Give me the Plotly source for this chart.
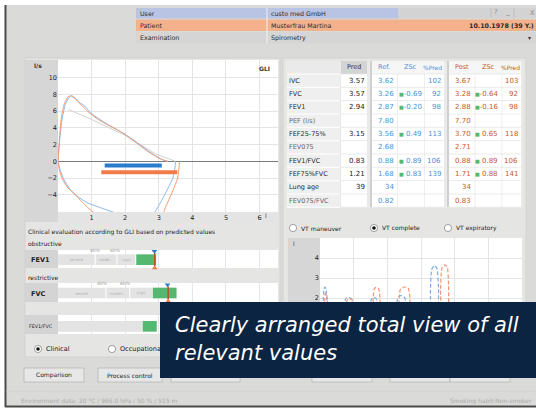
import plotly.graph_objects as go

W, H = 536, 409
FONT = "DejaVu Sans"

# ---------------- data ----------------
# Flow-volume loop: volume (l) vs flow (l/s)
ref_exp_vol = [0.00, 0.05, 0.12, 0.22, 0.32, 0.40, 0.50, 0.65, 0.80, 0.90, 1.10, 1.40, 1.70, 2.00, 2.30, 2.60, 2.85, 3.05, 3.20, 3.26]
ref_exp_flow = [0.00, 2.50, 5.00, 6.80, 7.60, 7.85, 7.60, 7.00, 6.60, 6.10, 5.40, 4.60, 3.90, 3.20, 2.40, 1.50, 0.80, 0.30, 0.05, 0.00]
post_exp_vol = [0.00, 0.04, 0.10, 0.20, 0.30, 0.38, 0.50, 0.70, 0.90, 1.20, 1.50, 1.80, 2.10, 2.40, 2.70, 2.95, 3.15, 3.28]
post_exp_flow = [0.00, 2.50, 5.20, 7.00, 7.70, 7.80, 7.50, 6.70, 5.90, 5.00, 4.30, 3.70, 2.90, 2.00, 1.10, 0.50, 0.15, 0.00]
ref_insp_vol = [0.00, 0.06, 0.18, 0.35, 0.55, 0.85, 1.24, 1.60, 2.00, 2.50, 2.85, 2.97, 3.20, 3.42, 3.48, 3.50]
ref_insp_flow = [0.00, -1.00, -2.20, -3.30, -4.10, -4.90, -5.50, -6.00, -6.60, -6.80, -6.20, -5.50, -3.80, -2.00, -0.80, 0.00]
post_insp_vol = [0.00, 0.04, 0.14, 0.30, 0.52, 0.70, 0.88, 1.10, 1.60, 2.60, 3.10, 3.20, 3.42, 3.56, 3.60, 3.62]
post_insp_flow = [0.00, -1.00, -2.20, -3.20, -4.00, -4.80, -5.50, -6.20, -7.00, -7.20, -6.40, -5.50, -3.50, -2.00, -0.80, 0.00]
pred_vol = [0.30, 1.00, 2.00, 2.90, 3.50]
pred_flow = [6.20, 5.00, 3.10, 0.90, 0.00]
ref_bar_vol = [1.39, 3.09]
ref_bar_flow = -0.5
post_bar_vol = [1.29, 3.55]
post_bar_flow = -1.3
flow_ticks = [-4, -2, 0, 2, 4, 6, 8, 10]
vol_ticks = [1, 2, 3, 4, 5, 6]

# Tidal breathing (VT complete)
vt_ref_x = [0.00, 0.08, 0.10, 0.12, 0.15, 0.18, 0.20, 0.22, 0.45,
            0.72, 0.74, 0.78, 0.85, 0.92, 0.96, 0.98, 1.25,
            1.49, 1.51, 1.55, 1.60, 1.66, 1.70, 1.72, 2.00,
            2.27, 2.29, 2.34, 2.42, 2.50, 2.55, 2.57, 2.90,
            3.26, 3.28, 3.32, 3.40, 3.47, 3.52, 3.55, 4.00, 6.00]
vt_ref_y = [1.00, 1.20, 2.00, 2.45, 2.55, 2.45, 2.00, 1.20, 0.80,
            1.20, 1.85, 2.00, 2.02, 1.98, 1.85, 1.20, 0.80,
            1.20, 1.85, 2.00, 2.02, 1.98, 1.85, 1.20, 0.80,
            1.20, 1.85, 2.08, 2.12, 2.05, 1.85, 1.20, 0.60,
            1.20, 2.40, 3.45, 3.62, 3.50, 2.60, 1.20, 0.50, 0.50]
vt_post_x = [0.00, 0.12, 0.14, 0.16, 0.18, 0.20, 0.22, 0.24, 0.50,
             0.77, 0.79, 0.83, 0.89, 0.95, 0.99, 1.01, 1.30,
             1.56, 1.58, 1.61, 1.67, 1.74, 1.78, 1.80, 2.05,
             2.33, 2.35, 2.39, 2.50, 2.62, 2.67, 2.69, 3.10,
             3.56, 3.58, 3.62, 3.70, 3.78, 3.82, 3.85, 4.20, 6.00]
vt_post_y = [1.00, 1.20, 1.90, 2.20, 2.27, 2.20, 1.90, 1.20, 0.80,
             1.20, 1.80, 1.95, 1.96, 1.93, 1.80, 1.20, 0.80,
             1.20, 2.00, 2.45, 2.53, 2.48, 2.00, 1.20, 0.80,
             1.20, 2.00, 2.45, 2.55, 2.50, 2.00, 1.20, 0.60,
             1.20, 2.40, 3.50, 3.66, 3.55, 2.60, 1.20, 0.50, 0.50]
vt_ticks = [2, 3, 4]

# Results table
params = ["IVC", "FVC", "FEV1", "PEF (l/s)", "FEF25-75%", "FEV075", "FEV1/FVC", "FEF75%FVC", "Lung age", "FEV075/FVC"]
pred = ["3.57", "3.57", "2.94", "", "3.15", "", "0.83", "1.21", "39", ""]
ref_val = ["3.62", "3.26", "2.87", "7.80", "3.56", "2.68", "0.88", "1.68", "34", "0.82"]
ref_z = ["", "-0.69", "-0.20", "", " 0.49", "", " 0.89", " 0.83", "", ""]
ref_pct = ["102", "92", "98", "", "113", "", "106", "139", "", ""]
post_val = ["3.67", "3.28", "2.88", "7.70", "3.70", "2.71", "0.88", "1.71", "34", "0.83"]
post_z = ["", "-0.64", "-0.16", "", " 0.65", "", " 0.89", " 0.88", "", ""]
post_pct = ["103", "92", "98", "", "118", "", "106", "141", "", ""]

# Clinical evaluation (GLI) bars, in litres on the same volume scale
eval_rows = ["FEV1/FVC", "FVC", "FEV1"]            # bottom -> top
fev1_seg_start = [0.00, 1.12, 1.77]
fev1_seg_end = [1.09, 1.74, 2.30]
fev1_seg_text = ["severe", "mode...", "slight"]
fev1_normal = [2.33, 2.92]
fvc_seg_start = [0.00, 1.44, 2.15]
fvc_seg_end = [1.41, 2.12, 2.80]
fvc_seg_text = ["severe", "moder...", "slight"]
fvc_normal = [2.82, 3.53]
ratio_seg = [0.00, 2.50]
ratio_normal = [2.52, 2.94]
fev1_pct_pos = [1.12, 1.70]
fvc_pct_pos = [1.32, 2.02]
pct_text = ["40%", "60%"]
eval_ref = [2.87, 3.26]    # FEV1, FVC
eval_post = [2.88, 3.28]

# ---------------- helpers ----------------
def X(px):
    return px / W

def Y(py):
    return 1 - py / H

shapes = []
annotations = []

def rect(x0, y0, x1, y1, fill, line=None, lw=0, layer="below"):
    shapes.append(dict(type="rect", xref="paper", yref="paper",
                       x0=X(x0), x1=X(x1), y0=Y(y1), y1=Y(y0),
                       fillcolor=fill, line=dict(width=lw, color=line or fill), layer=layer))

def hline(x0, x1, y, color, lw=1, layer="below"):
    shapes.append(dict(type="line", xref="paper", yref="paper", x0=X(x0), x1=X(x1),
                       y0=Y(y), y1=Y(y), line=dict(color=color, width=lw), layer=layer))

def vline(x, y0, y1, color, lw=1, layer="below"):
    shapes.append(dict(type="line", xref="paper", yref="paper", x0=X(x), x1=X(x),
                       y0=Y(y0), y1=Y(y1), line=dict(color=color, width=lw), layer=layer))

def circ(cx, cy, r, fill, line="#8a8a8a", lw=0.8):
    shapes.append(dict(type="circle", xref="paper", yref="paper", x0=X(cx - r), x1=X(cx + r),
                       y0=Y(cy + r), y1=Y(cy - r), fillcolor=fill,
                       line=dict(color=line, width=lw), layer="below"))

def txt(px, py, s, size=6, color="#333333", xa="left", weight="normal", family=FONT, style="normal"):
    annotations.append(dict(x=X(px), y=Y(py), xref="paper", yref="paper", text=s,
                            showarrow=False, xanchor=xa, yanchor="middle",
                            font=dict(size=size, color=color, family=family, weight=weight, style=style),
                            borderpad=0))

# ---------------- frame / panels ----------------
rect(5, 5, 536, 407, "#dadad8")
vline(5.5, 5, 407, "#4a4a4a", 2)
hline(5, 536, 406.5, "#4a4a4a", 2)

# header rows
rect(136, 8, 267, 18.5, "#b9c3e3")
rect(267, 8, 398, 18.5, "#b9c3e3")
rect(398, 8, 536, 18.5, "#d3d3d3")
vline(491, 8, 18.5, "#bdbdbd", 0.8)
vline(514, 8, 18.5, "#bdbdbd", 0.8)
rect(136, 19.5, 267, 31, "#f4b28c")
rect(267, 19.5, 536, 31, "#f4b28c")
rect(136, 32, 267, 43.5, "#d5d5d5")
rect(267, 32, 536, 43.5, "#d5d5d5")
vline(267, 8, 43.5, "#f2f2f2", 1)
txt(139, 13.3, "User", 6.3, "#2a2a2a")
txt(270, 13.3, "custo med GmbH", 6.3, "#2a2a2a")
txt(496, 12.5, "?", 7, "#888888", xa="center")
txt(507, 12.5, "_", 7, "#888888", xa="center")
txt(529, 13, "X", 6.5, "#888888")
txt(535, 25.3, "10.10.1978 (39 Y.)", 6.3, "#2a2a2a", xa="right", weight="bold")
txt(139, 25.3, "Patient", 6.3, "#2a2a2a")
txt(270, 25.3, "Musterfrau Martina", 6.3, "#2a2a2a")
txt(139, 37.8, "Examination", 6.3, "#2a2a2a")
txt(270, 37.8, "Spirometry", 6.3, "#2a2a2a")
txt(527, 37.8, "▾", 6, "#333333")

# left and right panels
rect(25, 58, 280, 357, "#e5e5e3", "#cfcfcf", 0.8)
rect(283, 58, 526, 362, "#e5e5e3", "#cfcfcf", 0.8)

# flow-volume chart area
rect(25, 60, 58, 222, "#d6d6d6")
rect(58, 60, 278, 212, "#ffffff")
rect(58, 212, 278, 222, "#e4e4e4")
txt(33, 65, "l/s", 6, "#333333", weight="bold")
txt(271, 69, "GLI", 6, "#333333", xa="right", weight="bold")
txt(264, 215.5, "l", 6, "#333333")

# clinical evaluation section
txt(27, 232, "Clinical evaluation according to GLI based on predicted values", 6, "#222222")
txt(27, 243, "obstructive", 6, "#222222")
txt(27, 277, "restrictive", 6, "#222222")
for (y0, y1) in [(250, 268), (283, 302), (315, 334)]:
    rect(25, y0, 58, y1, "#d4d4d4")
    rect(58, y0, 278, y1, "#ffffff")
txt(30, 260, "FEV1", 6.5, "#222222", weight="bold")
txt(30, 293.5, "FVC", 6.5, "#222222", weight="bold")
txt(28, 326.5, "FEV1/FVC", 4.8, "#222222")
circ(38, 349, 3.6, "#ffffff")
circ(38, 349, 1.8, "#111111", "#111111", 0)
txt(45, 349, "Clinical", 6.5, "#222222")
circ(112, 349, 3.6, "#ffffff")
txt(119, 349, "Occupationa", 6.5, "#222222")

# buttons
for (x0, x1) in [(24, 84), (98, 162), (171, 240), (312, 372), (390, 450), (450, 510)]:
    rect(x0, 368, x1, 382, "#e7e7e7", "#b8b8b8", 0.8)
txt(54, 375, "Comparison", 6, "#222222", xa="center")
txt(130, 375, "Process control", 6, "#222222", xa="center")

# status bar
hline(6, 536, 391, "#d0d0d0", 0.8)
txt(20, 400.5, "Environment data: 20 °C / 966.0 hPa / 50 % / 515 m", 6, "#aaaaaa")
txt(533, 400.5, "Smoking habit:Non-smoker", 6, "#aaaaaa", xa="right")

# results table
rect(286, 61, 523, 208, "#eaeaea")
row_h = 13.33
rect(341, 61, 367, 74, "#d4d4d4")
rect(372, 61, 444, 74, "#f6f6f6")
rect(449, 61, 521, 74, "#f6f6f6")
rect(287, 74, 340, 74 + 10 * row_h, "#efefef")
rect(341, 74, 367, 74 + 10 * row_h, "#ffffff")
rect(372, 74, 444, 74 + 10 * row_h, "#ffffff")
rect(449, 74, 521, 74 + 10 * row_h, "#ffffff")
vline(371, 61, 74 + 10 * row_h, "#c6c6c6", 1.5)
vline(448, 61, 74 + 10 * row_h, "#c6c6c6", 1.5)
for xs in [397.5, 424.5, 475, 502]:
    vline(xs, 74, 74 + 10 * row_h, "#e6e6e6", 0.7)
for i in range(11):
    yy = 74 + i * row_h
    hline(287, 340, yy, "#ffffff", 1)
    hline(341, 367, yy, "#e2e2e2", 0.7)
    hline(372, 444, yy, "#e2e2e2", 0.7)
    hline(449, 521, yy, "#e2e2e2", 0.7)

BLUE_T = "#4d8fd8"
ORANGE_T = "#c65a22"
GREEN = "#55b870"
txt(354, 67.5, "Pred", 6.5, "#333333", xa="center")
txt(384, 67.5, "Ref.", 6.5, BLUE_T, xa="center")
txt(410, 67.5, "ZSc", 6.5, BLUE_T, xa="center")
txt(443, 67.5, "%Pred", 6, BLUE_T, xa="right")
txt(462, 67.5, "Post", 6.5, ORANGE_T, xa="center")
txt(488, 67.5, "ZSc", 6.5, ORANGE_T, xa="center")
txt(521, 67.5, "%Pred", 6, ORANGE_T, xa="right")

def zs(s):
    return ('<span style="color:%s;font-size:5px">■</span>%s' % (GREEN, s)) if s else ""

for i, p in enumerate(params):
    cy = 74 + i * row_h + row_h / 2
    lab_col = "#666666" if p in ("PEF (l/s)", "FEV075", "FEV075/FVC") else "#2a2a2a"
    txt(288, cy, p, 6.5, lab_col)
    if pred[i]:
        txt(366, cy, pred[i], 7, "#1a1a1a", xa="right")
    txt(395, cy, ref_val[i], 7, BLUE_T, xa="right")
    if ref_z[i]:
        txt(423, cy, zs(ref_z[i]), 7, BLUE_T, xa="right")
    if ref_pct[i]:
        txt(442, cy, ref_pct[i], 7, BLUE_T, xa="right")
    txt(472, cy, post_val[i], 7, ORANGE_T, xa="right")
    if post_z[i]:
        txt(499, cy, zs(post_z[i]), 7, ORANGE_T, xa="right")
    if post_pct[i]:
        txt(519, cy, post_pct[i], 7, ORANGE_T, xa="right")

# VT section
circ(293, 228, 3.6, "#ffffff")
txt(300, 228, "VT maneuver", 6, "#222222")
circ(374, 228, 3.6, "#ffffff")
circ(374, 228, 1.8, "#111111", "#111111", 0)
txt(381, 228, "VT complete", 6, "#222222")
circ(448, 228, 3.6, "#ffffff")
txt(455, 228, "VT expiratory", 6, "#222222")
rect(288, 238, 320, 360, "#d6d6d6")
rect(320, 238, 522, 360, "#ffffff")
txt(292, 243, "l", 6, "#333333")

# overlay banner
OVL_FONT = "DejaVu Sans"
rect(160, 302, 536, 378, "#0b2441", layer="above")
txt(174, 325, "Clearly arranged total view of all", 21, "#ffffff", family=OVL_FONT, style="italic", weight=200)
txt(174, 353, "relevant values", 21, "#ffffff", family=OVL_FONT, style="italic", weight=200)

# ---------------- traces ----------------
BLUE_L = "#8ab8e8"
ORANGE_L = "#f59c74"
fig = go.Figure()
fig.add_trace(go.Scatter(x=pred_vol, y=pred_flow, mode="lines", line=dict(color="#d2d2d2", width=1), hoverinfo="skip"))
for xs, ys, c in [(ref_exp_vol, ref_exp_flow, BLUE_L), (post_exp_vol, post_exp_flow, ORANGE_L),
                  (ref_insp_vol, ref_insp_flow, BLUE_L), (post_insp_vol, post_insp_flow, ORANGE_L)]:
    fig.add_trace(go.Scatter(x=xs, y=ys, mode="lines", line=dict(color=c, width=1, shape="spline", smoothing=0.6),
                             hoverinfo="skip"))
fig.add_trace(go.Scatter(x=ref_bar_vol, y=[ref_bar_flow] * 2, mode="lines",
                         line=dict(color="#2b7ccb", width=4), hoverinfo="skip"))
fig.add_trace(go.Scatter(x=post_bar_vol, y=[post_bar_flow] * 2, mode="lines",
                         line=dict(color="#f27a48", width=4), hoverinfo="skip"))

# VT chart
fig.add_trace(go.Scatter(x=vt_ref_x, y=vt_ref_y, mode="lines", xaxis="x2", yaxis="y2",
                         line=dict(color="#7aaee4", width=1.2, dash="4px,2px", shape="spline", smoothing=0.5),
                         hoverinfo="skip"))
fig.add_trace(go.Scatter(x=vt_post_x, y=vt_post_y, mode="lines", xaxis="x2", yaxis="y2",
                         line=dict(color="#f3946a", width=1.2, dash="4px,2px", shape="spline", smoothing=0.5),
                         hoverinfo="skip"))

# evaluation bars
def seg_bar(row, starts, ends, color, texts=None):
    fig.add_trace(go.Bar(y=[row] * len(starts), base=starts, x=[e - s for s, e in zip(starts, ends)],
                         orientation="h", width=0.32, xaxis="x3", yaxis="y3",
                         marker=dict(color=color, line=dict(width=0)),
                         text=texts, textposition="inside" if texts else "none",
                         insidetextanchor="middle", textangle=0,
                         textfont=dict(size=5, color="#b0b0b0", family=FONT), hoverinfo="skip"))

seg_bar(2, fev1_seg_start, fev1_seg_end, "#e3e3e3", fev1_seg_text)
seg_bar(2, [fev1_normal[0]], [fev1_normal[1]], GREEN)
seg_bar(1, fvc_seg_start, fvc_seg_end, "#e3e3e3", fvc_seg_text)
seg_bar(1, [fvc_normal[0]], [fvc_normal[1]], GREEN)
seg_bar(0, [ratio_seg[0]], [ratio_seg[1]], "#e3e3e3")
seg_bar(0, [ratio_normal[0]], [ratio_normal[1]], GREEN)

for row, rv, pv in [(2, eval_ref[0], eval_post[0]), (1, eval_ref[1], eval_post[1])]:
    fig.add_trace(go.Scatter(x=[pv, pv], y=[row - 0.2, row + 0.2], mode="lines", xaxis="x3", yaxis="y3",
                             line=dict(color="#b8521f", width=1.5), hoverinfo="skip"))
    fig.add_trace(go.Scatter(x=[rv], y=[row + 0.25], mode="markers", xaxis="x3", yaxis="y3",
                             marker=dict(symbol="triangle-down", size=5, color="#2b7ccb"), hoverinfo="skip"))
    fig.add_trace(go.Scatter(x=[pv], y=[row - 0.25], mode="markers", xaxis="x3", yaxis="y3",
                             marker=dict(symbol="triangle-up", size=5, color="#f27a48"), hoverinfo="skip"))

for pos, t in zip(fev1_pct_pos, pct_text):
    annotations.append(dict(x=pos, y=2.27, xref="x3", yref="y3", text=t, showarrow=False,
                            font=dict(size=4.5, color="#a0a0a0", family=FONT)))
for pos, t in zip(fvc_pct_pos, pct_text):
    annotations.append(dict(x=pos, y=1.28, xref="x3", yref="y3", text=t, showarrow=False,
                            font=dict(size=4.5, color="#a0a0a0", family=FONT)))

# overlay texts drawn last
overlay = [a for a in annotations if a.get("font", {}).get("size", 0) > 15]
annotations = [a for a in annotations if a not in overlay] + overlay

GRID = "#e4e4e4"
TICKF = dict(size=6.5, color="#222222", family=FONT)
fig.update_layout(
    width=W, height=H, margin=dict(l=0, r=0, t=0, b=0),
    paper_bgcolor="#ffffff", plot_bgcolor="rgba(0,0,0,0)",
    showlegend=False, barmode="overlay",
    shapes=shapes, annotations=annotations,
    xaxis=dict(domain=[X(58), X(278)], range=[0, 6.55], tickvals=vol_ticks, showgrid=True, gridcolor=GRID,
               zeroline=False, showline=False, ticks="", tickfont=TICKF, anchor="y", fixedrange=True),
    yaxis=dict(domain=[Y(212), Y(60)], range=[-6.05, 12.1], tickvals=flow_ticks, showgrid=True, gridcolor=GRID,
               zeroline=True, zerolinecolor="#7a7a7a", zerolinewidth=1, showline=False, ticks="",
               tickfont=TICKF, anchor="x", fixedrange=True),
    xaxis2=dict(domain=[X(320), X(522)], range=[0, 6], tickvals=[1, 2, 3, 4, 5], showticklabels=False,
                showgrid=True, gridcolor=GRID, zeroline=False, ticks="", anchor="y2"),
    yaxis2=dict(domain=[Y(358), Y(238)], range=[-1, 5], tickvals=vt_ticks, showgrid=True, gridcolor=GRID,
                zeroline=False, ticks="", tickfont=TICKF, anchor="x2"),
    xaxis3=dict(domain=[X(58), X(278)], range=[0, 6.55], tickvals=vol_ticks, showticklabels=False,
                showgrid=True, gridcolor="#e6e6e6", zeroline=False, ticks="", anchor="y3"),
    yaxis3=dict(domain=[Y(343), Y(243)], range=[-0.5, 2.5], showticklabels=False, showgrid=False,
                zeroline=False, ticks="", anchor="x3"),
)

fig.write_html("out.html", config={"displayModeBar": False},
               post_script="document.body.style.margin='0';document.body.style.overflow='hidden';")
